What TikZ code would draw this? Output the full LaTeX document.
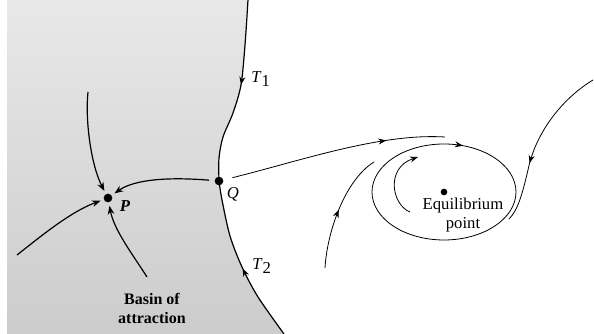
\documentclass[tikz,border=0pt]{standalone}
\usepackage{fontspec}
\setmainfont{Liberation Serif}
\usetikzlibrary{arrows.meta,decorations.markings}
\tikzset{
  dot/.style={circle,fill=black,inner sep=0pt,minimum size=#1},
  dot/.default=6pt,
  midarrow/.style={postaction={decorate},decoration={markings,mark=at position #1 with {\arrow{Stealth[length=6pt,width=4.5pt]}}}},
  traj/.style={line width=0.9pt},
  thin traj/.style={line width=0.6pt},
  endarrow/.style={-{Stealth[length=6.5pt,width=5pt]}},
  lbl/.style={font=\fontsize{12.5}{14}\selectfont,inner sep=0pt},
}
\begin{document}
\begin{tikzpicture}[x=0.75pt,y=-0.75pt]
\useasboundingbox (0,0) rectangle (594,334);
% basin (shaded region)
\shade[top color=black!9,bottom color=black!20]
  (7,0) -- plot[smooth] coordinates {(248,0) (245,45) (241,85) (233,113) (223,137) (219,158) (219,181) (222,200) (230,236) (242,267) (258,297) (284,334)} -- (7,334) -- cycle;
% separatrices
\draw[traj,midarrow=0.46] plot[smooth] coordinates {(248,0) (245,45) (241,85) (233,113) (223,137) (219,158) (219,181)};
\draw[traj,midarrow=0.46] plot[smooth] coordinates {(284,334) (258,297) (242,267) (230,236) (222,200) (219,181)};
% points
\node[dot=6.5pt] (P) at (108,198) {};
\node[dot=6.5pt] (Q) at (219,181) {};
\node[dot=5pt] (E) at (444,192) {};
% labels
\node[lbl,font=\fontsize{12.5}{14}\selectfont\bfseries\itshape] (Plbl) at (125,206) {P};
\node[lbl,font=\fontsize{12.5}{14}\selectfont\itshape] (Qlbl) at (233,194) {Q};
\node[lbl,anchor=west] (T1) at (251,79) {\textit{T}\raisebox{-0.45ex}{1}};
\node[lbl,anchor=west] (T2) at (252,266) {\textit{T}\raisebox{-0.45ex}{2}};
\node[lbl,align=center,font=\fontsize{12}{14.2}\selectfont\bfseries] (basin) at (152,308) {Basin of\\attraction};
\node[lbl,align=center,font=\fontsize{12.5}{13.6}\selectfont] (eqlbl) at (463,215) {Equilibrium\\point};
% trajectories into P
\coordinate (a1) at (88,92);
\coordinate (a3) at (17,255);
\coordinate (a4) at (147,277);
\draw[traj,endarrow,shorten >=2.5pt] (a1) .. controls (85,120) and (91,165) .. (P);
\draw[traj,endarrow,shorten >=2.5pt,shorten <=4pt] (Q) .. controls (170,177) and (135,179) .. (P);
\draw[traj,endarrow,shorten >=2.5pt] (a3) .. controls (40,237) and (70,212) .. (P);
\draw[traj,endarrow,shorten >=2.5pt] (a4) .. controls (133,255) and (114,230) .. (P);
% right side
\coordinate (b1) at (445,137);
\draw[thin traj,midarrow=0.74,shorten <=7pt] (Q) .. controls (300,161) and (380,133) .. (b1);
\draw[thin traj,midarrow=0.8] (E) ellipse [x radius=72,y radius=48];
\coordinate (c0) at (410,212);
\coordinate (c1) at (418,157);
\draw[thin traj,-{Stealth[length=6pt,width=4.5pt]}] (c0) .. controls (392,205) and (385,168) .. (c1);
\coordinate (d0) at (325,268);
\coordinate (d1) at (374,162);
\draw[thin traj,midarrow=0.5] (d0) .. controls (327,232) and (345,180) .. (d1);
\coordinate (f0) at (593,80);
\coordinate (f1) at (528,170);
\coordinate (f2) at (509,219);
\draw[thin traj,midarrow=0.64] (f0) .. controls (560,100) and (535,135) .. (f1) .. controls (522,195) and (518,210) .. (f2);
\end{tikzpicture}
\end{document}
